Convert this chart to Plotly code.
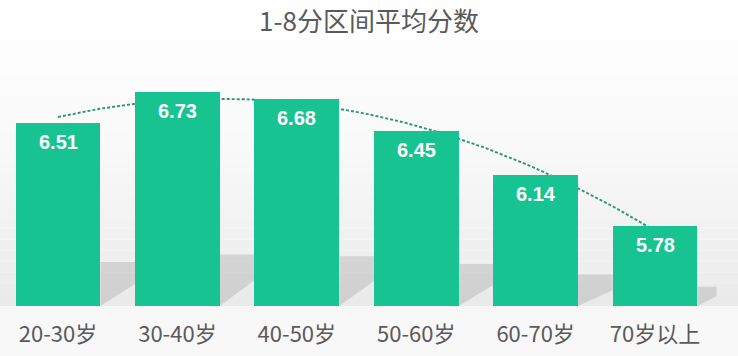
import numpy as np
import plotly.graph_objects as go

categories = ["20-30岁", "30-40岁", "40-50岁", "50-60岁", "60-70岁", "70岁以上"]
values = [6.51, 6.73, 6.68, 6.45, 6.14, 5.78]
title_text = "1-8分区间平均分数"

W, H = 738, 356
ML, MR, MT, MB = 0, 0, 60, 50
y_min, y_max = 5.21, 6.955
x_range = [-0.486, 5.695]
bar_w = 0.71

xs = np.arange(len(values))
coef = np.polyfit(xs, values, 2)
tx = np.linspace(0, len(values) - 1, 80)
ty = np.polyval(coef, tx)

fig = go.Figure()

# trend line (base axes, drawn under the bars)
fig.add_trace(go.Scatter(
    x=tx, y=ty, mode="lines", xaxis="x", yaxis="y",
    line=dict(color="#2a9677", width=1.9, dash="3px,2px"),
    hoverinfo="skip", showlegend=False,
))

# bars on overlaying axes so they sit on top of the trend line
fig.add_trace(go.Bar(
    x=xs, y=[v - y_min for v in values], base=y_min, width=bar_w,
    xaxis="x2", yaxis="y2",
    marker=dict(color="#17c390", line=dict(width=0)),
    showlegend=False, hoverinfo="skip",
))

shapes = []
# background gradient bands
plot_h = H - MT - MB
n = 24
c0 = np.array([254, 254, 254])
c1 = np.array([234, 234, 234])
top_px, bot_px = 40, H - MB
for i in range(n):
    a = top_px + (bot_px - top_px) * i / n
    b = top_px + (bot_px - top_px) * (i + 1) / n
    t = (i + 0.5) / n
    c = (c0 + (c1 - c0) * t ** 1.5).astype(int)
    shapes.append(dict(type="rect", xref="paper", yref="paper", layer="below",
                       x0=-0.01, x1=1.01, y0=(H - MB - b) / plot_h, y1=(H - MB - a) / plot_h,
                       fillcolor=f"rgb({c[0]},{c[1]},{c[2]})", line=dict(width=0)))
shapes.append(dict(type="rect", xref="paper", yref="paper", layer="below",
                   x0=-0.01, x1=1.01, y0=-MB / plot_h, y1=0,
                   fillcolor="#f8f8f8", line=dict(width=0)))

# floor shadows to the right of each bar
for x, v in zip(xs, values):
    h = v - y_min
    xr = x + bar_w / 2
    sw = 0.29 if x < len(values) - 1 else 0.16
    top = y_min + 0.24 * h
    path = (f"M {xr},{y_min} L {xr},{top} L {xr + sw},{top} "
            f"L {xr + sw},{y_min + 0.12 * h} Z")
    shapes.append(dict(type="path", xref="x", yref="y", layer="below",
                       path=path, fillcolor="rgba(150,150,150,0.30)", line=dict(width=0)))

annotations = []
for x, v in zip(xs, values):
    annotations.append(dict(x=x, y=v, xref="x2", yref="y2", text=f"<b>{v:.2f}</b>",
                            showarrow=False, yanchor="top", yshift=-6,
                            font=dict(family="Liberation Sans, Arial", size=20, color="white"),
                            ))

fig.update_layout(
    width=W, height=H,
    margin=dict(l=ML, r=MR, t=MT, b=MB),
    paper_bgcolor="#fefefe", plot_bgcolor="rgba(0,0,0,0)",
    title=dict(text=title_text, x=0.5, xanchor="center", y=1 - 22 / H, yanchor="middle",
               font=dict(family="Noto Sans CJK SC", size=26, color="#5a5a5a")),
    xaxis=dict(range=x_range, tickvals=list(xs), ticktext=categories, showgrid=False,
               zeroline=False, showline=False, ticks="outside", ticklen=9,
               tickcolor="rgba(0,0,0,0)",
               tickfont=dict(family="Noto Sans CJK SC", size=22, color="#5a5a5a")),
    yaxis=dict(range=[y_min, y_max], visible=False, showgrid=False),
    xaxis2=dict(range=x_range, overlaying="x", visible=False),
    yaxis2=dict(range=[y_min, y_max], overlaying="y", visible=False),
    shapes=shapes, annotations=annotations, bargap=0,
)

fig.write_html("out.html")
